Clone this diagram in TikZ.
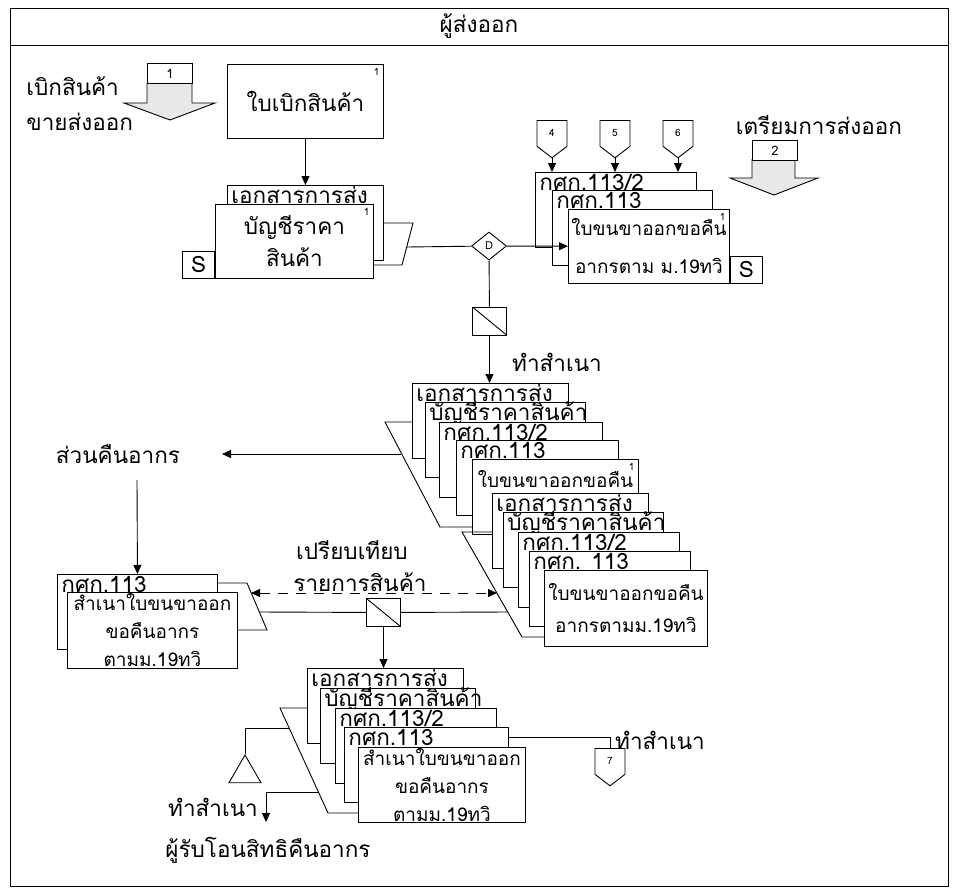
\documentclass[tikz,border=0pt]{standalone}
\usepackage{fontspec}
\setmainfont[Script=Thai]{Loma}
\usetikzlibrary{arrows.meta,shapes.geometric,shapes.symbols}

\tikzset{
  doc/.style={draw, fill=white, anchor=north west, inner sep=0pt,
    minimum height=75pt, align=center},
  title/.style={label={[anchor=base west, inner sep=0pt, xshift=4pt, yshift=-18pt]north west:#1}},
  headline/.style={label={[anchor=base, inner sep=0pt, yshift=-28pt, font=\fontsize{19}{23}\selectfont]north:#1}},
  sup/.style={label={[anchor=north east, inner sep=0pt, xshift=-4pt, yshift=-4pt, font=\fontsize{10}{10}\selectfont]north east:1}},
  corner/.style={path picture={\fill (path picture bounding box.south east) -- ++(-42pt,0pt) -- ++(42pt,35pt) -- cycle;}},
  sbox/.style={draw, fill=white, minimum width=32pt, minimum height=27pt, inner sep=0pt},
  copybox/.style={draw, fill=white, minimum width=34pt, minimum height=28pt, inner sep=0pt,
    path picture={\draw (path picture bounding box.north west) -- (path picture bounding box.south east);}},
  offpage/.style={draw, fill=white, signal, signal to=south, signal pointer angle=105,
    minimum width=30pt, minimum height=28pt, inner sep=0pt, anchor=north, font=\fontsize{10}{10}\selectfont},
  tab/.style={draw, fill=white, minimum width=45pt, minimum height=20pt, inner sep=0pt, anchor=north west,
    font=\fontsize{13}{13}\selectfont},
  big/.style={fill=gray!18},
  txt/.style={inner sep=0pt},
  narrow/.style={font=\fontsize{19}{23}\selectfont}
}

\begin{document}
\begin{tikzpicture}[x=1pt,y=-1pt,line width=0.9pt,font=\fontsize{22.5}{26}\selectfont,
  >={Triangle[length=9pt,width=8pt]}]
\useasboundingbox (0,0) rectangle (953,894);
\draw (10,8) rectangle (948,886);
\draw (10,45) -- (948,45);
\node[txt] (head) at (479,26) {ผู้ส่งออก};

% เบิกสินค้า
\filldraw[big] (147,83) -- (147,103) -- (124,103) -- (170,120) -- (215,103) -- (192,103) -- (192,83);
\node[tab] (t1) at (147,63) {1};
\node[txt, anchor=west, align=left] (issue) at (26,104) {เบิกสินค้า\\[9pt]ขายส่งออก};
\node[doc, sup, minimum width=156pt, minimum height=74pt] (req) at (227,64) {ใบเบิกสินค้า};

\node[doc, title=เอกสารการส่ง, minimum width=156pt] (inv0) at (227,185) {};
\node[doc, sup, corner, minimum width=158pt, minimum height=74pt] (inv) at (215,204) {บัญชีราคา\\[6pt]สินค้า};
\node[sbox, anchor=south east] (s1) at (inv.south west) {S};
\draw[->] (req) -- (inv0);
\draw (inv0.east |- 0,223) -- (413,223) -- (402,265) -- (inv.east |- 0,265);
\coordinate (p1) at (407,247);
\node[draw, fill=white, diamond, aspect=1.25, minimum width=35pt, minimum height=28pt, inner sep=0pt,
  font=\fontsize{11}{11}\selectfont] (dd) at (489,246) {D};
\draw (p1) -- (dd);

% เตรียมการส่งออก
\node[doc, title=กศก.113/2, minimum width=161pt] (r1) at (535,172) {};
\node[doc, title=กศก.113, minimum width=160pt] (r2) at (552,190) {};
\node[doc, sup, corner, narrow, minimum width=161pt, minimum height=74pt] (r3) at (568,209) {ใบขนขาออกขอคืน\\[15pt]อากรตาม ม.19ทวิ};
\node[sbox, anchor=south west] (s2) at (r3.south east) {S};
\draw[->] (dd) -- (r3);
\foreach \n/\x in {4/552,5/615,6/678}{
  \node[offpage] (c\n) at (\x,120) {\n};
  \draw[->] (c\n.south) -- (c\n.south |- r1.north);
}
\node[txt] (prep) at (819,125) {เตรียมการส่งออก};
\filldraw[big] (752,159) -- (752,178) -- (730,178) -- (774,195) -- (818,178) -- (795,178) -- (795,159);
\node[tab] (t2) at (752,140) {2};

% ทำสำเนา
\node[copybox] (cp1) at (489.5,321) {};
\node[txt] (cpy1) at (557,362) {ทำสำเนา};
\draw (dd) -- (cp1);
\node[doc, title=เอกสารการส่ง, minimum width=156pt] (m1) at (412,383) {};
\node[doc, title=บัญชีราคาสินค้า, minimum width=160pt] (m2) at (425,402) {};
\node[doc, title=กศก.113/2, minimum width=163pt] (m3) at (439,422) {};
\node[doc, title=กศก.113, minimum width=162pt] (m4) at (456,440) {};
\node[doc, sup, headline=ใบขนขาออกขอคืน, minimum width=166pt] (m5) at (472,459) {};
\node[doc, title=เอกสารการส่ง, minimum width=156pt] (m6) at (492,493) {};
\node[doc, title=บัญชีราคาสินค้า, minimum width=160pt] (m7) at (503,512) {};
\node[doc, title=กศก.113/2, minimum width=161pt] (m8) at (518,532) {};
\node[doc, title=กศก. 113, minimum width=161pt] (m9) at (529,551) {};
\node[doc, narrow, minimum width=163pt, minimum height=76pt] (m10) at (544,570) {ใบขนขาออกขอคืน\\[9pt]อากรตามม.19ทวิ};
\draw[->] (cp1) -- (cp1 |- m1.north);
\draw (m1.west |- 0,422) -- (385,422) -- (440,527) -- (m5.west |- 0,527);
\draw (m6.west |- 0,532) -- (462,532) -- (522,637) -- (m10.west |- 0,637);

% ส่วนคืนอากร
\node[txt] (refund) at (118,454) {ส่วนคืนอากร};
\coordinate (p2) at (401,454);
\coordinate (p3) at (222,454);
\draw[->] (p2) -- (p3);
\node[doc, title=กศก.113, minimum width=160pt] (l1) at (57,574) {};
\node[doc, narrow, minimum width=170pt, minimum height=76pt] (l2) at (67,592) {สำเนาใบขนขาออก\\[5pt]ขอคืนอากร\\[5pt]ตามม.19ทวิ};
\coordinate (p4) at (137,480);
\draw[->] (p4) -- (l1.north);
\draw (l1.east |- 0,583) -- (247,583) -- (267,630) -- (l2.east |- 0,630);

% เปรียบเทียบ
\node[txt] (cmp1) at (352,550) {เปรียบเทียบ};
\node[txt] (cmp2) at (360,582) {รายการสินค้า};
\coordinate (q1) at (251,593);
\coordinate (q2) at (497,593);
\draw[<->, dash pattern=on 10pt off 8pt] (q1) -- (q2);
\node[copybox] (cp2) at (383.5,612.5) {};
\coordinate (q3) at (259,612);
\coordinate (q4) at (508,612);
\draw (q3) -- (cp2) -- (q4);

% ผู้รับโอนสิทธิ
\node[doc, title=เอกสารการส่ง, minimum width=156pt] (b1) at (307,668) {};
\node[doc, title=บัญชีราคาสินค้า, minimum width=155pt] (b2) at (320,688) {};
\node[doc, title=กศก.113/2, minimum width=161pt] (b3) at (335,708) {};
\node[doc, title=กศก.113, minimum width=164pt] (b4) at (344,727) {};
\node[doc, narrow, minimum width=167pt] (b5) at (358,747) {สำเนาใบขนขาออก\\[5pt]ขอคืนอากร\\[5pt]ตามม.19ทวิ};
\draw[->] (cp2) -- (cp2 |- b1.north);
\draw (b1.west |- 0,708) -- (280,708) -- (328,813) -- (b5.west |- 0,813);
\node[draw, regular polygon, regular polygon sides=3, minimum size=37pt, inner sep=0pt] (tri) at (245,773.5) {};
\coordinate (u1) at (289,728);
\draw (u1) -| (tri.corner 1);
\node[txt] (cpy2) at (213,807) {ทำสำเนา};
\node[txt] (recv) at (268,850) {ผู้รับโอนสิทธิคืนอากร};
\coordinate (u2) at (318,792);
\coordinate (u3) at (266,822);
\draw[->] (u2) -| (u3);
\node[offpage] (c7) at (610,748) {7};
\node[txt] (cpy3) at (660,740) {ทำสำเนา};
\draw (b4.east |- 0,737) -| (c7.north);
\end{tikzpicture}
\end{document}
